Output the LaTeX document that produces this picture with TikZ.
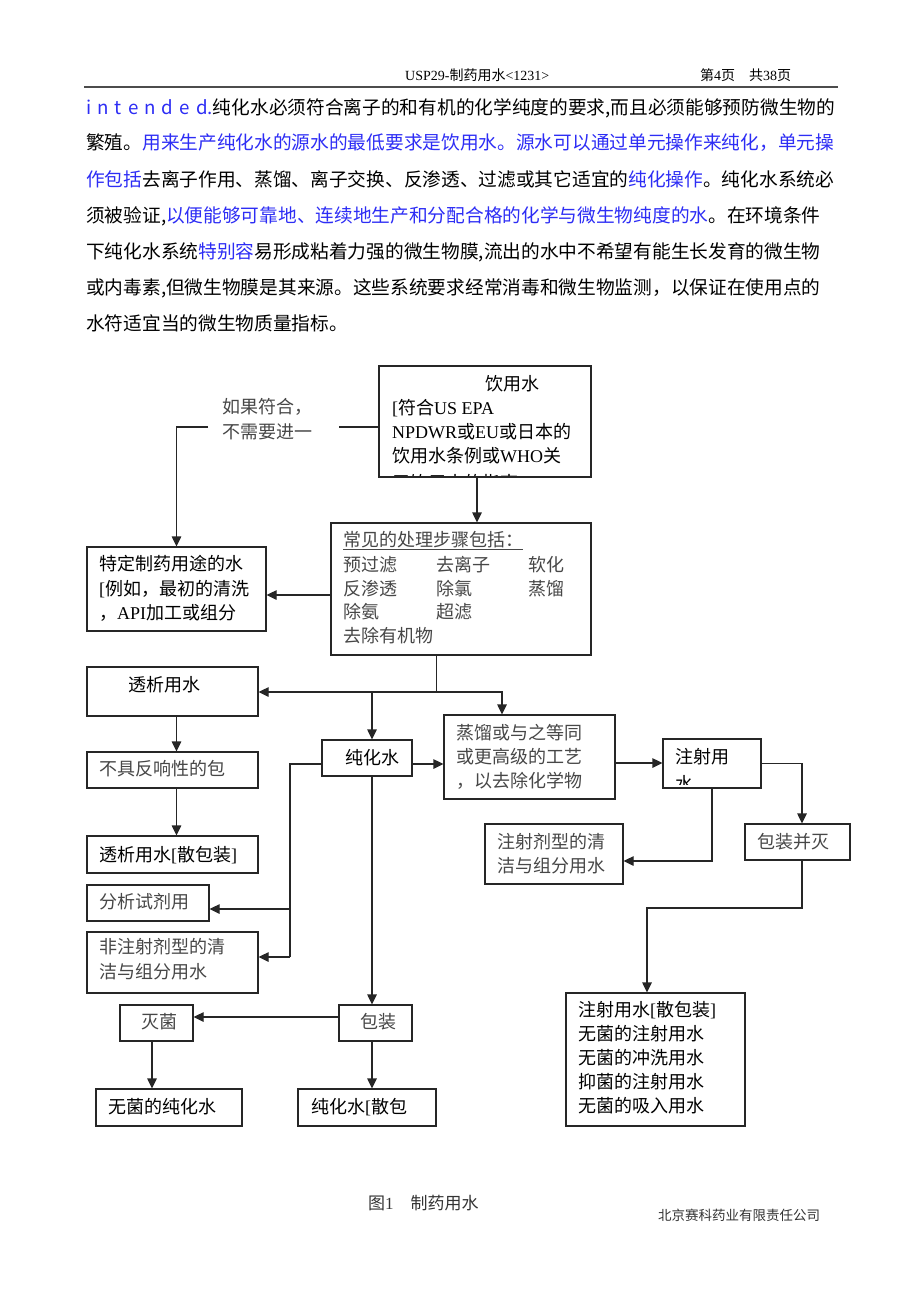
\documentclass[tikz,border=0pt]{standalone}
\usepackage{fontspec}
\setmainfont{Noto Sans CJK SC}
\newfontfamily\tmf{Liberation Serif}
\newcommand\tm[1]{{\tmf #1}}
\usetikzlibrary{arrows.meta}
\definecolor{lb}{RGB}{45,45,245}
\XeTeXlinebreaklocale "zh"
\XeTeXlinebreakskip=0pt plus 1.5pt
\newcommand\bbox[5]{\node[bx, minimum width={#4-#2}, minimum height={#5-#3}] (#1) at ({(#2+#4)/2},{(#3+#5)/2}) {};}
\newcommand\pline[1]{\makebox[749pt][s]{#1}}
\tikzset{
  bx/.style={draw=black!85, line width=1.2pt, inner sep=0pt},
  ln/.style={line width=1.2pt, draw=black!85},
  ar/.style={ln, -{Triangle[length=10pt,width=9.5pt]}},
  t18/.style={inner sep=0pt, anchor=west, font=\fontsize{18}{24}\selectfont, text height=15.84pt, text depth=2.16pt},
  tp/.style={inner sep=0pt, anchor=west, font=\fontsize{18.7}{24}\selectfont, text height=16.46pt, text depth=2.24pt},
  t14/.style={inner sep=0pt, anchor=west, font=\fontsize{14}{16}\selectfont, text height=12.32pt, text depth=1.68pt},
  t17/.style={inner sep=0pt, anchor=west, font=\fontsize{17}{20}\selectfont, text height=14.96pt, text depth=2.04pt, text=black!80},
  t13/.style={inner sep=0pt, anchor=west, font=\fontsize{13.5}{16}\selectfont, text height=11.88pt, text depth=1.62pt, text=black!80},
  thin/.style={text=black!72},
}
\begin{document}
\begin{tikzpicture}[x=1pt, y=-1pt]
\useasboundingbox[fill=white] (0,0) rectangle (920,1302);

% header
\node[t14] (hdr1) at (405,75) {\tm{USP29-}制药用水\tm{<1231>}};
\node[t14] (hdr2) at (700,75) {第\tm{4}页\quad 共\tm{38}页};
\draw[line width=1.6pt, black!70] (84,87) -- (838,87);

% paragraph
\node[tp] (p1) at (86,107) {\pline{{\color{lb}i n t e n d e d.}纯化水必须符合离子的和有机的化学纯度的要求,而且必须能够预防微生物的}};
\node[tp] (p2) at (86,142) {\pline{繁殖。{\color{lb}用来生产纯化水的源水的最低要求是饮用水。源水可以通过单元操作来纯化，单元操}}};
\node[tp] (p3) at (86,179) {\pline{{\color{lb}作包括}去离子作用、蒸馏、离子交换、反渗透、过滤或其它适宜的{\color{lb}纯化操作}。纯化水系统必}};
\node[tp] (p4) at (86,215) {\pline{须被验证,{\color{lb}以便能够可靠地、连续地生产和分配合格的化学与微生物纯度的水}。在环境条件}};
\node[tp] (p5) at (86,251) {\pline{下纯化水系统{\color{lb}特别容}易形成粘着力强的微生物膜,流出的水中不希望有能生长发育的微生物}};
\node[tp] (p6) at (86,287) {\pline{或内毒素,但微生物膜是其来源。这些系统要求经常消毒和微生物监测，以保证在使用点的}};
\node[tp] (p7) at (86,323) {水符适宜当的微生物质量指标。};

% boxes
\bbox{drink}{379}{366}{591}{477}
\bbox{special}{87}{547}{266}{631}
\bbox{common}{331}{523}{591}{655}
\bbox{dialysis}{87}{667}{258}{716}
\bbox{nonreact}{87}{752}{258}{788}
\bbox{dialbulk}{87}{836}{258}{873}
\bbox{pure}{322}{740}{412}{776}
\bbox{analyt}{87}{885}{209}{921}
\bbox{nonparen}{87}{932}{258}{993}
\bbox{pack}{339}{1005}{412}{1041}
\bbox{steril}{120}{1005}{193}{1041}
\bbox{sterpure}{96}{1089}{242}{1126}
\bbox{purebulk}{298}{1089}{436}{1126}
\bbox{distil}{444}{715}{615}{799}
\bbox{wfi}{663}{739}{761}{788}
\bbox{paren}{485}{824}{623}{884}
\bbox{packst}{745}{824}{850}{860}
\bbox{wfibulk}{566}{993}{745}{1126}

% texts
\node[t18, anchor=center] (dr0) at (512,384) {饮用水};
\node[t18] (dr1) at (392,408) {\tm{[}符合\tm{US EPA}};
\node[t18] (dr2) at (392,432) {\tm{NPDWR}或\tm{EU}或日本的};
\node[t18] (dr3) at (392,456) {饮用水条例或\tm{WHO}关};
\begin{scope}
  \clip (drink.north west) rectangle ([yshift=2pt]drink.south east);
  \node[t18] (dr4) at (392,483) {于饮用水的指南\tm{]}};
\end{scope}

\node[t18, thin] (if1) at (222,407) {如果符合，};
\node[t18, thin] (if2) at (222,432) {不需要进一};

\node[t18] (sp1) at (99,564) {特定制药用途的水};
\node[t18] (sp2) at (99,589) {\tm{[}例如，最初的清洗};
\node[t18] (sp3) at (99,613) {，\tm{API}加工或组分};

\node[t18, thin] (cm0) at (343,540) {常见的处理步骤包括：};
\draw[line width=0.8pt, black!72] (cm0.south west) -- (cm0.south east);
\node[t18, thin] (cm1) at (343,565) {预过滤};
\node[t18, thin] (cm2) at (436,565) {去离子};
\node[t18, thin] (cm3) at (528,565) {软化};
\node[t18, thin] (cm4) at (343,589) {反渗透};
\node[t18, thin] (cm5) at (436,589) {除氯};
\node[t18, thin] (cm6) at (528,589) {蒸馏};
\node[t18, thin] (cm7) at (343,612) {除氨};
\node[t18, thin] (cm8) at (436,612) {超滤};
\node[t18, thin] (cm9) at (343,636) {去除有机物};

\node[t18, anchor=center] (dl0) at (164,685) {透析用水};
\node[t18, thin] (nr0) at (99,769) {不具反响性的包};
\node[t18] (db0) at (99,855) {透析用水\tm{[}散包装\tm{]}};
\node[t18, anchor=center] (pu0) at (372,758) {纯化水};
\node[t18, thin] (an0) at (99,902) {分析试剂用};
\node[t18, thin] (np1) at (99,947) {非注射剂型的清};
\node[t18, thin] (np2) at (99,972) {洁与组分用水};
\node[t18, thin, anchor=center] (pk0) at (378,1022) {包装};
\node[t18, thin, anchor=center] (st0) at (159,1022) {灭菌};
\node[t18] (sw0) at (108,1107) {无菌的纯化水};
\node[t18] (pb0) at (311,1107) {纯化水\tm{[}散包};
\node[t18, thin] (ds1) at (456,733) {蒸馏或与之等同};
\node[t18, thin] (ds2) at (456,757) {或更高级的工艺};
\node[t18, thin] (ds3) at (456,781) {，以去除化学物};
\node[t18] (wf1) at (675,757) {注射用};
\begin{scope}
  \clip (wfi.north west) rectangle ([yshift=4pt]wfi.south east);
  \node[t18] (wf2) at (675,784) {水};
\end{scope}
\node[t18, thin] (pa1) at (497,842) {注射剂型的清};
\node[t18, thin] (pa2) at (497,866) {洁与组分用水};
\node[t18, thin] (ps0) at (757,842) {包装并灭};
\node[t18] (wb1) at (578,1010) {注射用水\tm{[}散包装\tm{]}};
\node[t18] (wb2) at (578,1034) {无菌的注射用水};
\node[t18] (wb3) at (578,1058) {无菌的冲洗用水};
\node[t18] (wb4) at (578,1082) {抑菌的注射用水};
\node[t18] (wb5) at (578,1106) {无菌的吸入用水};

% caption and footer
\node[t17] (cap) at (368,1203) {图\tm{1}\quad 制药用水};
\node[t13] (foot) at (658,1215) {北京赛科药业有限责任公司};

% connectors
\coordinate (g1) at (339,427);
\coordinate (g2) at (208,427);
\draw[ln] ([yshift=-5.5pt]drink.west) -- (g1);
\draw[ar] (g2) -- (g2 -| special.north) -- (special.north);
\draw[ar] ([xshift=-8pt]drink.south) -- ([xshift=-8pt]drink.south |- common.north);
\draw[ar] ([yshift=-6pt]common.west) -- ([yshift=-6pt]common.west -| special.east);

\coordinate (j1) at (436.5,692);
\coordinate (j2) at (502,692);
\coordinate (j3) at (372,692);
\draw[ln] (j1 |- common.south) -- (j1);
\draw[ar] (j1) -- (j1 -| dialysis.east);
\draw[ar] (j1) -- (j2) -- (j2 |- distil.north);
\draw[ar] (j3) -- (j3 |- pure.north);

\draw[ar] (dialysis.south -| special.north) -- (nonreact.north -| special.north);
\draw[ar] (nonreact.south -| special.north) -- (dialbulk.north -| special.north);

\draw[ar] ([yshift=-6pt]pure.east) -- ([yshift=-6pt]pure.east -| distil.west);
\coordinate (vx) at (290,0);
\coordinate (a1) at ([yshift=-6pt]analyt.east -| vx);
\coordinate (a2) at ([yshift=5.5pt]nonparen.east -| vx);
\draw[ln] ([yshift=-6pt]pure.west) -| (a2);
\draw[ar] (a1) -- ([yshift=-6pt]analyt.east);
\draw[ar] (a2) -- ([yshift=5.5pt]nonparen.east);

\draw[ar] (j3 |- pure.south) -- (j3 |- pack.north);
\draw[ar] ([yshift=6pt]pack.west) -- ([yshift=6pt]pack.west -| steril.east);
\draw[ar] ([xshift=-4.5pt]steril.south) -- ([xshift=-4.5pt]steril.south |- sterpure.north);
\draw[ar] (j3 |- pack.south) -- (j3 |- purebulk.north);

\draw[ar] ([yshift=-6pt]distil.east) -- ([yshift=-6pt]distil.east -| wfi.west);
\draw[ar] (wfi.east) -| ([xshift=4.5pt]packst.north);
\draw[ar] (wfi.south) |- ([yshift=-7pt]paren.east);
\coordinate (k) at (0,908);
\draw[ar] ([xshift=4.5pt]packst.south) -- ([xshift=4.5pt]packst.south |- k) -| ([xshift=-8.5pt]wfibulk.north);
\end{tikzpicture}
\end{document}
